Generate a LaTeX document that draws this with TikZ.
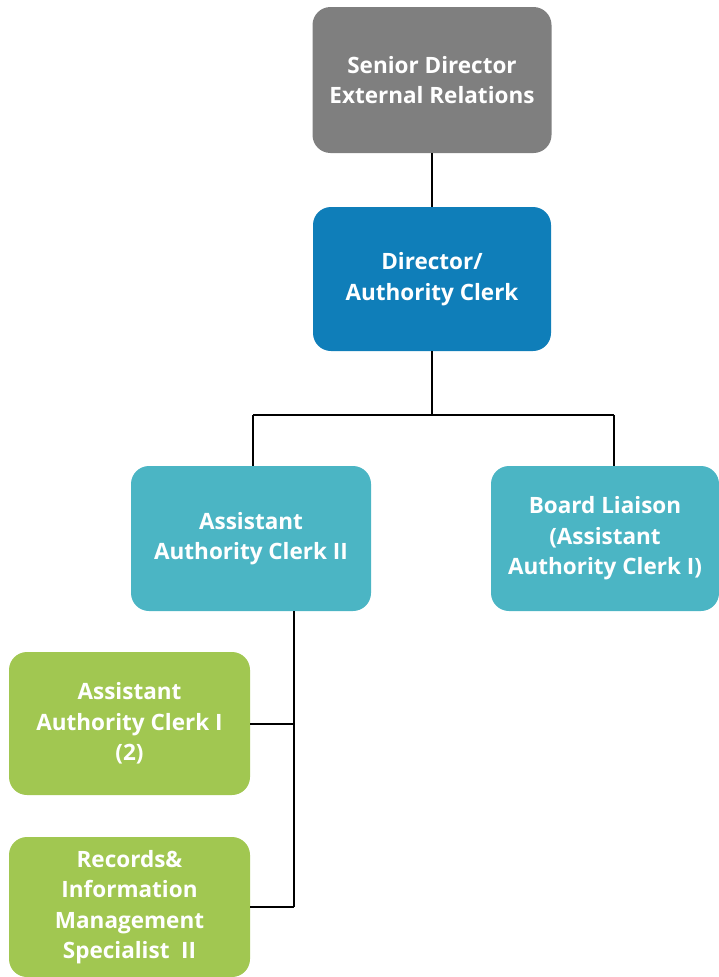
\documentclass[tikz,border=0pt]{standalone}
\usepackage{fontspec}
\setmainfont{Open Sans}
\definecolor{seniorgray}{HTML}{7F7F7F}
\definecolor{directorblue}{HTML}{0F7EB9}
\definecolor{assistteal}{HTML}{4BB5C4}
\definecolor{staffgreen}{HTML}{A1C751}
\begin{document}
\begin{tikzpicture}[x=1pt,y=-1pt,
  rolebox/.style={rounded corners=18pt, inner sep=0pt, align=center,
    text=white, font=\bfseries\fontsize{22.5}{30.5}\selectfont},
  link/.style={draw=black, line width=2pt}]
  \useasboundingbox (0,0) rectangle (719,977);

  % role boxes
  \node[rolebox, fill=seniorgray, minimum width=239pt, minimum height=146pt]
    (senior) at (432,80) {Senior Director\\External Relations};
  \node[rolebox, fill=directorblue, minimum width=238pt, minimum height=144pt]
    (director) at (432,279) {Director/\\Authority Clerk};
  \node[rolebox, fill=assistteal, minimum width=240pt, minimum height=145pt]
    (aac2) at (251,538.5) {Assistant\\Authority Clerk II};
  \node[rolebox, fill=assistteal, minimum width=228pt, minimum height=145pt]
    (liaison) at (605,538.5) {Board Liaison\\(Assistant\\Authority Clerk I)};
  \node[rolebox, fill=staffgreen, minimum width=241pt, minimum height=143pt]
    (aac1) at (129.5,723.5) {Assistant\\Authority Clerk I\\(2)};
  \node[rolebox, fill=staffgreen, minimum width=241pt, minimum height=140pt]
    (records) at (129.5,907) {Records\&\\Information\\Management\\Specialist\ \ II};

  % connectors
  \coordinate (busL) at (253,415);
  \coordinate (busR) at (614,415);
  \coordinate (trunk) at (294,907);

  \draw[link] (senior.south) -- (director.north);
  \draw[link] (director.south) -- (director.south |- busL);
  \draw[link] (busL) -- (busR);
  \draw[link] (busL) -- (busL |- aac2.north);
  \draw[link] (busR) -- (busR |- liaison.north);
  \draw[link] (trunk |- aac2.south) -- (trunk);
  \draw[link] (aac1.east) -- (aac1.east -| trunk);
  \draw[link] (records.east) -- (trunk);
\end{tikzpicture}
\end{document}
